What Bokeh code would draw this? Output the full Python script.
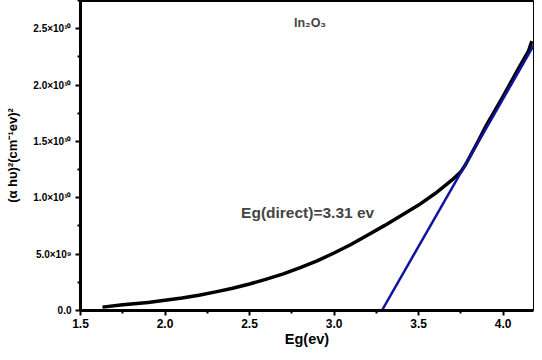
from bokeh.plotting import figure
from bokeh.models import Span, FixedTicker, Range1d, NumeralTickFormatter, Label
from bokeh.embed import file_html
from bokeh.resources import INLINE

# measured Tauc-plot data (photon energy in eV, (alpha h nu)^2 in (cm^-1 eV)^2)
energy = [1.63, 1.75, 1.9, 2.0, 2.1, 2.2, 2.3, 2.4, 2.5, 2.6, 2.7, 2.8, 2.9, 3.0,
          3.1, 3.2, 3.3, 3.4, 3.5, 3.6, 3.7, 3.75, 3.78, 3.85, 3.9, 4.0, 4.1,
          4.15, 4.17]
absorb = [0.30e9, 0.50e9, 0.72e9, 0.90e9, 1.10e9, 1.35e9, 1.65e9, 1.98e9, 2.35e9,
          2.78e9, 3.25e9, 3.80e9, 4.40e9, 5.10e9, 5.85e9, 6.70e9, 7.55e9, 8.45e9,
          9.35e9, 10.4e9, 11.6e9, 12.3e9, 13.0e9, 14.95e9, 16.4e9, 19.0e9, 21.7e9,
          23.0e9, 23.9e9]
fit_x = [3.283, 4.18]
fit_y = [0.0, 23.5e9]

x_ticks = [1.5, 2.0, 2.5, 3.0, 3.5, 4.0]
y_ticks = [0, 5e9, 1e10, 1.5e10, 2e10, 2.5e10]
y_tick_labels = ["0.0", "5.0×10⁹", "1.0×10¹⁰", "1.5×10¹⁰", "2.0×10¹⁰", "2.5×10¹⁰"]

FONT = "Liberation Sans"

p = figure(width=534, height=344, output_backend="svg", toolbar_location=None,
           x_range=Range1d(1.5, 4.18), y_range=Range1d(0, 2.75e10),
           min_border_left=80, min_border_right=1, min_border_top=0, min_border_bottom=34)
p.frame_width = 453
p.frame_height = 310
p.background_fill_color = "white"
p.border_fill_color = "white"
p.grid.visible = False
p.outline_line_color = "black"
p.outline_line_width = 1

p.line(energy, absorb, line_color="black", line_width=3.5, line_join="round")
p.line(fit_x, fit_y, line_color="#1212a0", line_width=2.5)

for ax in (p.xaxis[0], p.yaxis[0]):
    ax.axis_line_width = 3
    ax.axis_line_color = "black"
    ax.major_tick_line_width = 2
    ax.minor_tick_line_width = 2
    ax.major_tick_out = 5
    ax.major_tick_in = 0
    ax.minor_tick_out = 3
    ax.minor_tick_in = 0
    ax.major_label_text_font = FONT
    ax.major_label_text_font_style = "bold"
    ax.major_label_text_color = "black"

p.xaxis.ticker = FixedTicker(ticks=x_ticks, minor_ticks=[1.75, 2.25, 2.75, 3.25, 3.75])
p.xaxis.formatter = NumeralTickFormatter(format="0.0")
p.xaxis.major_label_text_font_size = "12px"
p.xaxis.major_label_standoff = 3
p.xaxis.axis_label = "Eg(ev)"
p.xaxis.axis_label_text_font = FONT
p.xaxis.axis_label_text_font_style = "bold"
p.xaxis.axis_label_text_font_size = "14.5px"
p.xaxis.axis_label_text_color = "black"
p.xaxis.axis_label_standoff = 0

p.yaxis.ticker = FixedTicker(ticks=y_ticks,
                             minor_ticks=[2.5e9, 7.5e9, 1.25e10, 1.75e10, 2.25e10, 2.75e10])
p.yaxis.major_label_overrides = {t: l for t, l in zip(y_ticks, y_tick_labels)}
p.yaxis.major_label_text_font_size = "10px"
p.yaxis.major_label_standoff = 4
p.yaxis.axis_label = "(α hυ)²(cm⁻¹ev)²"
p.yaxis.axis_label_text_font = FONT
p.yaxis.axis_label_text_font_style = "bold"
p.yaxis.axis_label_text_font_size = "13px"
p.yaxis.axis_label_text_color = "black"
p.yaxis.axis_label_standoff = 10

# thick top border
p.add_layout(Span(location=2.75e10, dimension="width", line_color="black", line_width=3))

p.add_layout(Label(x=2.763, y=2.55e10, text="In₂O₃", text_font=FONT,
                   text_font_size="12.5px", text_font_style="bold",
                   text_baseline="middle", text_align="left"))
p.add_layout(Label(x=2.45, y=8.73e9, text="Eg(direct)=3.31 ev", text_font=FONT,
                   text_font_size="15.5px", text_font_style="bold",
                   text_baseline="middle", text_align="left"))

open("out.html", "w").write(file_html(p, INLINE))
